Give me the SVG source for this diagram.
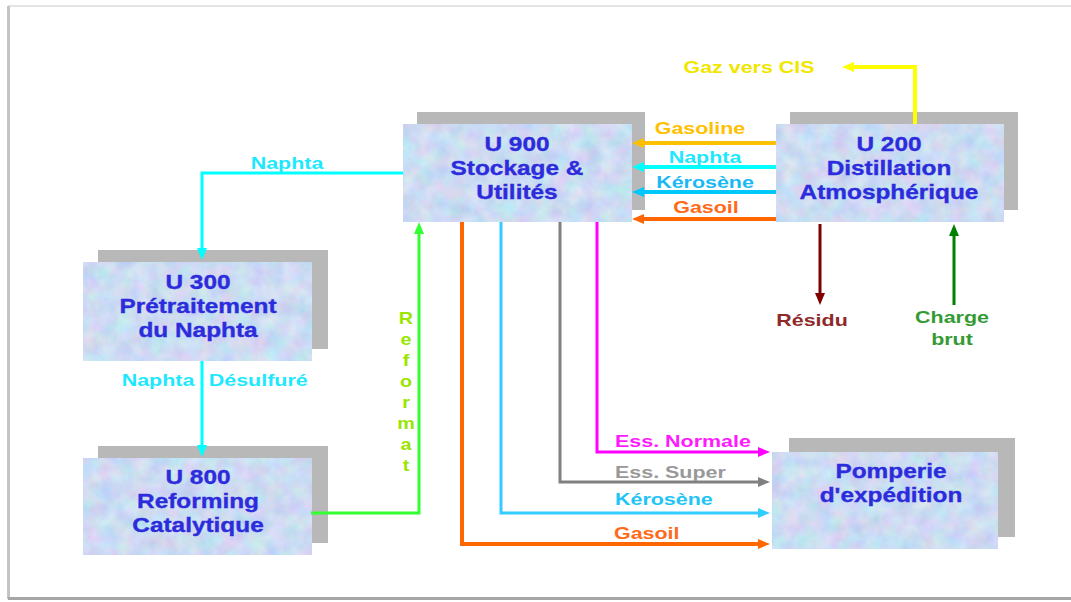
<svg xmlns="http://www.w3.org/2000/svg" width="1071" height="602" viewBox="0 0 1071 602">
  <style>
    .shadow { fill: #b8b8b8; }
    .box { fill: #c8d8f4; filter: url(#tissue); }
    .node { font-family: "Liberation Sans", Arial, sans-serif; font-weight: bold; font-size: 20px; fill: #2c2cdc; stroke: #2c2cdc; stroke-width: 0.35; text-anchor: middle; }
    .lbl { font-family: "Liberation Sans", Arial, sans-serif; font-weight: bold; font-size: 16.5px; }
    .mid { text-anchor: middle; }
    .flow { fill: none; stroke-linejoin: miter; }
  </style>
  <defs>
    <!-- mottled tissue-paper fill for the unit boxes -->
    <filter id="tissue" x="0" y="0" width="1" height="1" color-interpolation-filters="sRGB">
      <feTurbulence type="fractalNoise" baseFrequency="0.06" numOctaves="3" seed="7" result="noise"/>
      <feColorMatrix in="noise" type="matrix" values="0.24 0 0 0 0.68  0 0.18 0 0 0.77  0 0 0.10 0 0.90  0 0 0 0 1" result="tint"/>
      <feComposite in="tint" in2="SourceGraphic" operator="in"/>
    </filter>
    <marker id="m-cyan" viewBox="0 0 12 10" markerWidth="12" markerHeight="10" refX="2" refY="5" orient="auto" markerUnits="userSpaceOnUse"><path d="M0,0 L12,5 L0,10 z" fill="#00ffff"/></marker>
    <marker id="m-lime" viewBox="0 0 12 10" markerWidth="12" markerHeight="10" refX="2" refY="5" orient="auto" markerUnits="userSpaceOnUse"><path d="M0,0 L12,5 L0,10 z" fill="#33ff33"/></marker>
    <marker id="m-gold" viewBox="0 0 12 10" markerWidth="12" markerHeight="10" refX="2" refY="5" orient="auto" markerUnits="userSpaceOnUse"><path d="M0,0 L12,5 L0,10 z" fill="#ffc000"/></marker>
    <marker id="m-sky" viewBox="0 0 12 10" markerWidth="12" markerHeight="10" refX="2" refY="5" orient="auto" markerUnits="userSpaceOnUse"><path d="M0,0 L12,5 L0,10 z" fill="#00c8ff"/></marker>
    <marker id="m-orange" viewBox="0 0 12 10" markerWidth="12" markerHeight="10" refX="2" refY="5" orient="auto" markerUnits="userSpaceOnUse"><path d="M0,0 L12,5 L0,10 z" fill="#ff6600"/></marker>
    <marker id="m-yellow" viewBox="0 0 12 10" markerWidth="12" markerHeight="10" refX="2" refY="5" orient="auto" markerUnits="userSpaceOnUse"><path d="M0,0 L12,5 L0,10 z" fill="#ffff00"/></marker>
    <marker id="m-maroon" viewBox="0 0 12 10" markerWidth="12" markerHeight="10" refX="2" refY="5" orient="auto" markerUnits="userSpaceOnUse"><path d="M0,0 L12,5 L0,10 z" fill="#800000"/></marker>
    <marker id="m-green" viewBox="0 0 12 10" markerWidth="12" markerHeight="10" refX="2" refY="5" orient="auto" markerUnits="userSpaceOnUse"><path d="M0,0 L12,5 L0,10 z" fill="#008000"/></marker>
    <marker id="m-magenta" viewBox="0 0 12 10" markerWidth="12" markerHeight="10" refX="2" refY="5" orient="auto" markerUnits="userSpaceOnUse"><path d="M0,0 L12,5 L0,10 z" fill="#ff00ff"/></marker>
    <marker id="m-gray" viewBox="0 0 12 10" markerWidth="12" markerHeight="10" refX="2" refY="5" orient="auto" markerUnits="userSpaceOnUse"><path d="M0,0 L12,5 L0,10 z" fill="#808080"/></marker>
    <marker id="m-light" viewBox="0 0 12 10" markerWidth="12" markerHeight="10" refX="2" refY="5" orient="auto" markerUnits="userSpaceOnUse"><path d="M0,0 L12,5 L0,10 z" fill="#33ccff"/></marker>
  </defs>

  <rect width="1071" height="602" fill="#ffffff"/>
  <!-- page frame -->
  <g id="frame">
    <line x1="8" y1="6" x2="1071" y2="6" stroke="#e4e4e4" stroke-width="2"/>
    <line x1="8.5" y1="6" x2="8.5" y2="599" stroke="#c4c4c4" stroke-width="3"/>
    <line x1="8" y1="598.5" x2="1071" y2="598.5" stroke="#a6a6a6" stroke-width="3"/>
  </g>

  <g id="u900">
    <rect class="shadow" x="417" y="112" width="228" height="98"/>
    <rect class="box" x="403" y="124" width="229" height="98"/>
    <text class="node" transform="translate(517,0) scale(1.22,1)"><tspan x="0" y="151">U 900</tspan><tspan x="0" y="175">Stockage &amp;</tspan><tspan x="0" y="199">Utilités</tspan></text>
  </g>

  <g id="u200">
    <rect class="shadow" x="790" y="112" width="228" height="98"/>
    <rect class="box" x="776" y="124" width="228" height="98"/>
    <text class="node" transform="translate(889,0) scale(1.22,1)"><tspan x="0" y="151">U 200</tspan><tspan x="0" y="175">Distillation</tspan><tspan x="0" y="199">Atmosphérique</tspan></text>
  </g>

  <g id="u300">
    <rect class="shadow" x="98" y="250" width="230" height="99"/>
    <rect class="box" x="83" y="262" width="229" height="99"/>
    <text class="node" transform="translate(198,0) scale(1.22,1)"><tspan x="0" y="289">U 300</tspan><tspan x="0" y="313">Prétraitement</tspan><tspan x="0" y="337">du Naphta</tspan></text>
  </g>

  <g id="u800">
    <rect class="shadow" x="98" y="446" width="230" height="97"/>
    <rect class="box" x="83" y="458" width="229" height="97"/>
    <text class="node" transform="translate(198,0) scale(1.22,1)"><tspan x="0" y="484">U 800</tspan><tspan x="0" y="508">Reforming</tspan><tspan x="0" y="532">Catalytique</tspan></text>
  </g>

  <g id="pomperie">
    <rect class="shadow" x="789" y="438" width="226" height="99"/>
    <rect class="box" x="772" y="452" width="226" height="97"/>
    <text class="node" transform="translate(891,0) scale(1.22,1)"><tspan x="0" y="478">Pomperie</tspan><tspan x="0" y="502">d'expédition</tspan></text>
  </g>

  <g id="connectors">
    <path class="flow" d="M403,173 H202 V250" stroke="#00ffff" stroke-width="3" marker-end="url(#m-cyan)"/>
    <path class="flow" d="M202,361 V447" stroke="#00ffff" stroke-width="3" marker-end="url(#m-cyan)"/>
    <path class="flow" d="M311,513 H419 V232" stroke="#33ff33" stroke-width="3" marker-end="url(#m-lime)"/>
    <path class="flow" d="M776,143 H642" stroke="#ffc000" stroke-width="4" marker-end="url(#m-gold)"/>
    <path class="flow" d="M776,167 H642" stroke="#00ffff" stroke-width="4" marker-end="url(#m-cyan)"/>
    <path class="flow" d="M776,192 H642" stroke="#00c8ff" stroke-width="4" marker-end="url(#m-sky)"/>
    <path class="flow" d="M776,219 H642" stroke="#ff6600" stroke-width="4" marker-end="url(#m-orange)"/>
    <path class="flow" d="M915,124 V67 H852" stroke="#ffff00" stroke-width="4" marker-end="url(#m-yellow)"/>
    <path class="flow" d="M820,224 V295" stroke="#800000" stroke-width="3" marker-end="url(#m-maroon)"/>
    <path class="flow" d="M954,305 V234" stroke="#008000" stroke-width="3" marker-end="url(#m-green)"/>
    <path class="flow" d="M597,222 V452 H760" stroke="#ff00ff" stroke-width="3" marker-end="url(#m-magenta)"/>
    <path class="flow" d="M560,222 V482 H760" stroke="#808080" stroke-width="3" marker-end="url(#m-gray)"/>
    <path class="flow" d="M501,222 V513 H760" stroke="#33ccff" stroke-width="3" marker-end="url(#m-light)"/>
    <path class="flow" d="M462,222 V544 H760" stroke="#ff6600" stroke-width="4" marker-end="url(#m-orange)"/>
  </g>

  <g id="labels">
    <text class="lbl mid" fill="#f2e600" transform="translate(749,73) scale(1.3,1)">Gaz vers CIS</text>
    <text class="lbl mid" fill="#ffc000" transform="translate(700,134) scale(1.3,1)">Gasoline</text>
    <text class="lbl mid" fill="#1ee8ff" transform="translate(705,163) scale(1.3,1)">Naphta</text>
    <text class="lbl mid" fill="#1ab8f5" transform="translate(705,188) scale(1.3,1)">Kérosène</text>
    <text class="lbl mid" fill="#ff6a1a" transform="translate(706,213) scale(1.3,1)">Gasoil</text>
    <text class="lbl mid" fill="#1ee8ff" transform="translate(287,169) scale(1.3,1)">Naphta</text>
    <text class="lbl" fill="#1ee8ff" transform="translate(201,386) scale(1.3,1)"><tspan x="-61">Naphta</tspan><tspan x="6">Désulfuré</tspan></text>
    <text class="lbl mid" fill="#99e600" font-size="17" transform="translate(406,0) scale(1.2,1)"><tspan x="0" y="324">R</tspan><tspan x="0" y="345">e</tspan><tspan x="0" y="366">f</tspan><tspan x="0" y="387">o</tspan><tspan x="0" y="408">r</tspan><tspan x="0" y="429">m</tspan><tspan x="0" y="450">a</tspan><tspan x="0" y="471">t</tspan></text>
    <text class="lbl mid" fill="#8e2a2a" transform="translate(812,326) scale(1.3,1)">Résidu</text>
    <text class="lbl mid" fill="#349a34" transform="translate(952,0) scale(1.3,1)"><tspan x="0" y="323">Charge</tspan><tspan x="0" y="345">brut</tspan></text>
    <text class="lbl" fill="#ff1aff" transform="translate(615,447) scale(1.3,1)">Ess. Normale</text>
    <text class="lbl" fill="#999999" transform="translate(615,478) scale(1.3,1)">Ess. Super</text>
    <text class="lbl" fill="#22c4f5" transform="translate(615,505) scale(1.3,1)">Kérosène</text>
    <text class="lbl" fill="#ff6a1a" transform="translate(614,539) scale(1.3,1)">Gasoil</text>
  </g>
</svg>
